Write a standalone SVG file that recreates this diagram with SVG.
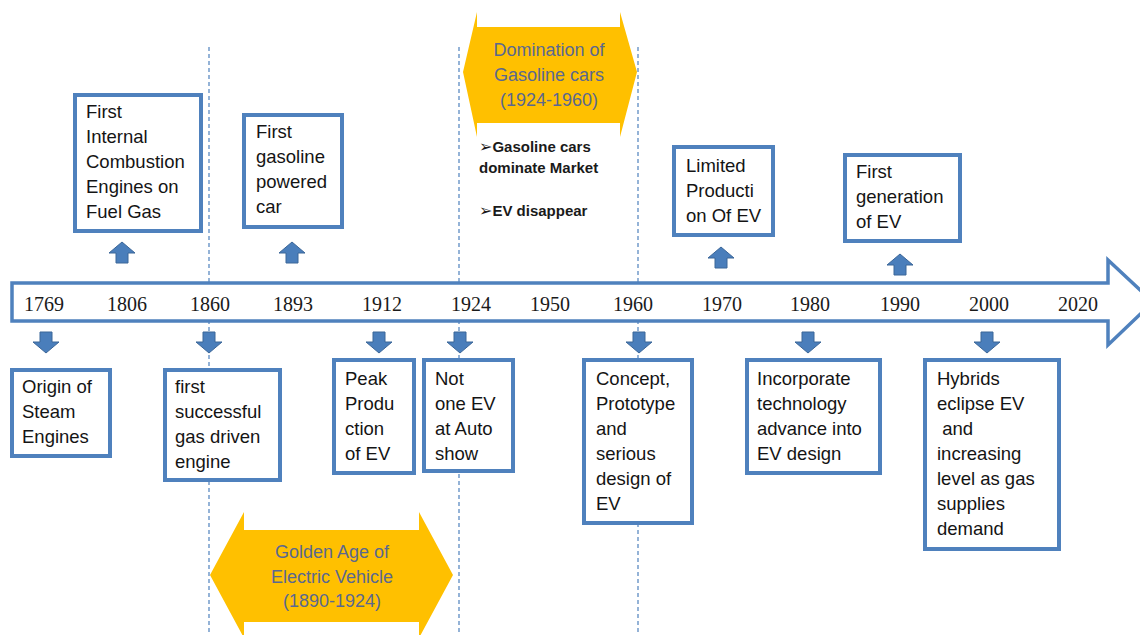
<svg xmlns="http://www.w3.org/2000/svg" width="1140" height="635" viewBox="0 0 1140 635">
<style>
.box{fill:#fff;stroke:#4F81BD;stroke-width:4}
.bt{font-family:"Liberation Sans",Arial,sans-serif;font-size:18.5px;fill:#141414}
.yr{font-family:"Liberation Serif","Times New Roman",serif;font-size:20px;fill:#1a1a1a;text-anchor:middle}
.gold{fill:#FFC000}
.gt{font-family:"Liberation Sans",Arial,sans-serif;font-size:18px;fill:#5A6890;text-anchor:middle}
.bul{font-family:"Liberation Sans",Arial,sans-serif;font-size:15px;font-weight:bold;fill:#1a1a1a}
.mk{font-family:"DejaVu Sans",sans-serif;font-weight:normal;font-size:16px}
.dash{stroke:#4F81BD;stroke-width:1.2;stroke-dasharray:4 3;fill:none}
.sa{fill:#4A7EBB;stroke:#3B6698;stroke-width:1}
</style>
<defs>
<path id="dn" d="M-6,0 H6 V10 H13 L0,21 L-13,10 H-6 Z"/>
<path id="up" d="M-6,21 H6 V11 H13 L0,0 L-13,11 H-6 Z"/>
</defs>
<rect width="1140" height="635" fill="#fff"/>

<g id="guides">
<line class="dash" x1="209" y1="47" x2="209" y2="635"/>
<line class="dash" x1="459" y1="47" x2="459" y2="635"/>
<line class="dash" x1="638" y1="47" x2="638" y2="635"/>
</g>

<g id="era-gasoline">
<polygon class="gold" points="463,72 477,12 477,27 620,27 620,12 637,72 620,137 620,123 477,123 477,137"/>
<text class="gt" x="549" y="56">Domination of</text>
<text class="gt" x="549" y="81">Gasoline cars</text>
<text class="gt" x="549" y="106">(1924-1960)</text>
</g>

<g id="era-golden">
<polygon class="gold" points="210,575 244,512 244,530 419,530 419,512 453,575 419,638 419,622 244,622 244,638"/>
<text class="gt" x="332" y="558">Golden Age of</text>
<text class="gt" x="332" y="583">Electric Vehicle</text>
<text class="gt" x="332" y="607">(1890-1924)</text>
</g>

<g id="bullets">
<text class="bul" x="479" y="152"><tspan class="mk">➢</tspan>Gasoline cars</text>
<text class="bul" x="479" y="173">dominate Market</text>
<text class="bul" x="479" y="216"><tspan class="mk">➢</tspan>EV disappear</text>
</g>

<g id="connectors">
<path id="timeline" d="M12,283 H1108 V260 L1153,302 L1108,345 V321 H12 Z" fill="#fff" stroke="#4F81BD" stroke-width="3.5" stroke-linejoin="miter"/>
<use href="#dn" class="sa" x="46" y="332"/>
<use href="#dn" class="sa" x="209" y="332"/>
<use href="#dn" class="sa" x="379" y="332"/>
<use href="#dn" class="sa" x="460" y="332"/>
<use href="#dn" class="sa" x="639" y="332"/>
<use href="#dn" class="sa" x="808" y="332"/>
<use href="#dn" class="sa" x="987" y="332"/>
<use href="#up" class="sa" x="122" y="242"/>
<use href="#up" class="sa" x="292" y="242"/>
<use href="#up" class="sa" x="721" y="247"/>
<use href="#up" class="sa" x="900" y="254"/>
</g>

<g id="years">
<text class="yr" x="44" y="311">1769</text>
<text class="yr" x="127" y="311">1806</text>
<text class="yr" x="210" y="311">1860</text>
<text class="yr" x="293" y="311">1893</text>
<text class="yr" x="382" y="311">1912</text>
<text class="yr" x="471" y="311">1924</text>
<text class="yr" x="550" y="311">1950</text>
<text class="yr" x="633" y="311">1960</text>
<text class="yr" x="722" y="311">1970</text>
<text class="yr" x="810" y="311">1980</text>
<text class="yr" x="900" y="311">1990</text>
<text class="yr" x="989" y="311">2000</text>
<text class="yr" x="1078" y="311">2020</text>
</g>

<g id="n1806">
<rect class="box" x="75" y="95" width="126" height="136"/>
<text class="bt" x="86" y="118">First</text>
<text class="bt" x="86" y="143">Internal</text>
<text class="bt" x="86" y="168">Combustion</text>
<text class="bt" x="86" y="193">Engines on</text>
<text class="bt" x="86" y="218">Fuel Gas</text>
</g>

<g id="n1893">
<rect class="box" x="244" y="115" width="98" height="112"/>
<text class="bt" x="256" y="138">First</text>
<text class="bt" x="256" y="163">gasoline</text>
<text class="bt" x="256" y="188">powered</text>
<text class="bt" x="256" y="213">car</text>
</g>

<g id="n1970">
<rect class="box" x="674" y="147" width="99" height="88"/>
<text class="bt" x="686" y="172">Limited</text>
<text class="bt" x="686" y="197">Producti</text>
<text class="bt" x="686" y="222">on Of EV</text>
</g>

<g id="n1990">
<rect class="box" x="845" y="155" width="115" height="86"/>
<text class="bt" x="856" y="178">First</text>
<text class="bt" x="856" y="203">generation</text>
<text class="bt" x="856" y="228">of EV</text>
</g>

<g id="n1769">
<rect class="box" x="12" y="370" width="98" height="86"/>
<text class="bt" x="22" y="393">Origin of</text>
<text class="bt" x="22" y="418">Steam</text>
<text class="bt" x="22" y="443">Engines</text>
</g>

<g id="n1860">
<rect class="box" x="165" y="370" width="115" height="110"/>
<text class="bt" x="175" y="393">first</text>
<text class="bt" x="175" y="418">successful</text>
<text class="bt" x="175" y="443">gas driven</text>
<text class="bt" x="175" y="468">engine</text>
</g>

<g id="n1912">
<rect class="box" x="334" y="360" width="80" height="113"/>
<text class="bt" x="345" y="385">Peak</text>
<text class="bt" x="345" y="410">Produ</text>
<text class="bt" x="345" y="435">ction</text>
<text class="bt" x="345" y="460">of EV</text>
</g>

<g id="n1924">
<rect class="box" x="424" y="360" width="89" height="111"/>
<text class="bt" x="435" y="385">Not</text>
<text class="bt" x="435" y="410">one EV</text>
<text class="bt" x="435" y="435">at Auto</text>
<text class="bt" x="435" y="460">show</text>
</g>

<g id="n1960">
<rect class="box" x="584" y="360" width="108" height="163"/>
<text class="bt" x="596" y="385">Concept,</text>
<text class="bt" x="596" y="410">Prototype</text>
<text class="bt" x="596" y="435">and</text>
<text class="bt" x="596" y="460">serious</text>
<text class="bt" x="596" y="485">design of</text>
<text class="bt" x="596" y="510">EV</text>
</g>

<g id="n1980">
<rect class="box" x="747" y="360" width="133" height="113"/>
<text class="bt" x="757" y="385">Incorporate</text>
<text class="bt" x="757" y="410">technology</text>
<text class="bt" x="757" y="435">advance into</text>
<text class="bt" x="757" y="460">EV design</text>
</g>

<g id="n2000">
<rect class="box" x="925" y="360" width="134" height="189"/>
<text class="bt" x="937" y="385">Hybrids</text>
<text class="bt" x="937" y="410">eclipse EV</text>
<text class="bt" x="937" y="435" xml:space="preserve"> and</text>
<text class="bt" x="937" y="460">increasing</text>
<text class="bt" x="937" y="485">level as gas</text>
<text class="bt" x="937" y="510">supplies</text>
<text class="bt" x="937" y="535">demand</text>
</g>
</svg>
